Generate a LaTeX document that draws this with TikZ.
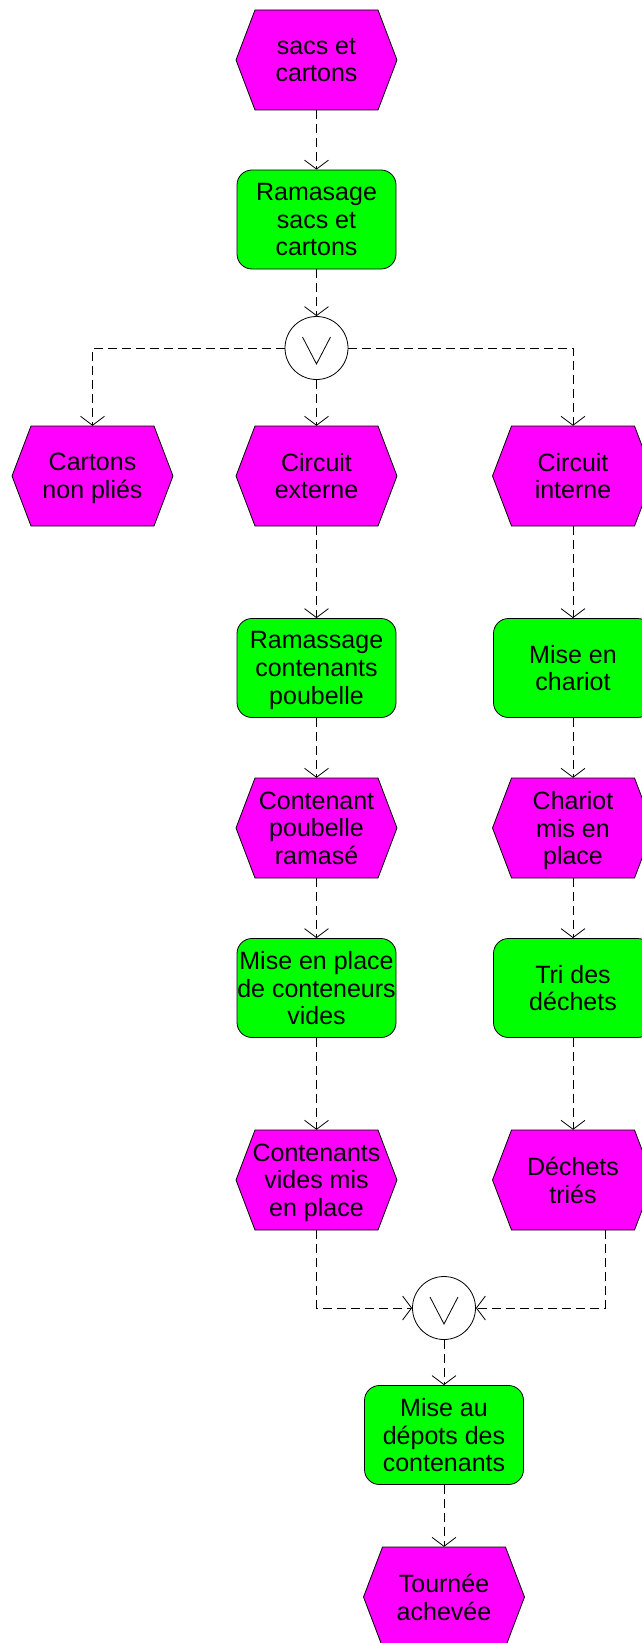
\documentclass[tikz,border=0pt]{standalone}
\usepackage{fontspec}
\setmainfont{Liberation Sans}
\usetikzlibrary{arrows.meta,calc}
\definecolor{evmag}{HTML}{FF00FF}
\definecolor{fngreen}{HTML}{00FF00}
\newcommand\hexnode[4]{%
  \filldraw[hexshape] (#2-80.5,#3) -- (#2-61.5,#3-50) -- (#2+61.5,#3-50) -- (#2+80.5,#3) -- (#2+61.5,#3+50) -- (#2-61.5,#3+50) -- cycle;
  \node[txt, minimum width=161pt, minimum height=100pt] (#1) at (#2,#3) {#4};}
\begin{document}
\begin{tikzpicture}[x=1pt,y=-1pt,
  hexshape/.style={fill=evmag, draw=black, line width=0.8pt},
  txt/.style={inner sep=0pt, align=center, font=\fontsize{25}{27.7}\selectfont, text depth=-4pt},
  fnbox/.style={txt, draw=black, fill=fngreen, line width=0.8pt, rounded corners=15pt, minimum width=159pt, minimum height=99pt},
  orop/.style={circle, draw=black, fill=white, line width=0.8pt, minimum size=63pt, inner sep=0pt},
  conn/.style={draw=black, line width=0.8pt, dash pattern=on 9pt off 5pt, -{Straight Barb[length=9pt,width=24pt]}},
  vsym/.style={draw=black, line width=0.8pt}]
\useasboundingbox (0,0) rectangle (642,1643);
\clip (0,0) rectangle (642,1643);
% nodes
\hexnode{sacs}{316.5}{60}{sacs et\\cartons}
\node[fnbox] (ram) at (316.5,219.5) {Ramasage\\sacs et\\cartons};
\node[orop] (c1) at (316.5,348) {};
\draw[vsym] ($(c1.center)+(-14,-11)$) -- ($(c1.center)+(0,16)$) -- ($(c1.center)+(14,-11)$);
\hexnode{cartons}{92.5}{476}{Cartons\\non pliés}
\hexnode{cext}{316.5}{476}{Circuit\\externe}
\hexnode{cint}{573}{476}{Circuit\\interne}
\node[fnbox] (rcp) at (316.5,668) {Ramassage\\contenants\\poubelle};
\node[fnbox] (mec) at (573,668) {Mise en\\chariot};
\hexnode{cpr}{316.5}{828}{Contenant\\poubelle\\ramasé}
\hexnode{cmp}{573}{828}{Chariot\\mis en\\place}
\node[fnbox] (mep) at (316.5,988) {Mise en place\\de conteneurs\\vides};
\node[fnbox] (tri) at (573,988) {Tri des\\déchets};
\hexnode{cvm}{316.5}{1180}{Contenants\\vides mis\\en place}
\hexnode{dtr}{573}{1180}{Déchets\\triés}
\node[orop] (c2) at (444,1308) {};
\draw[vsym] ($(c2.center)+(-14,-11)$) -- ($(c2.center)+(0,16)$) -- ($(c2.center)+(14,-11)$);
\node[fnbox] (mad) at (444,1435) {Mise au\\dépots des\\contenants};
\hexnode{tou}{444}{1597}{Tournée\\achevée}
\coordinate (dtout) at (605,1230);
% connectors
\draw[conn] (sacs) -- (ram);
\draw[conn] (ram) -- (c1);
\draw[conn] (c1) -- (cext);
\draw[conn] (c1.west) -| (cartons.north);
\draw[conn] (c1.east) -| (cint.north);
\draw[conn] (cext) -- (rcp);
\draw[conn] (rcp) -- (cpr);
\draw[conn] (cpr) -- (mep);
\draw[conn] (mep) -- (cvm);
\draw[conn] (cvm.south) |- (c2.west);
\draw[conn] (cint) -- (mec);
\draw[conn] (mec) -- (cmp);
\draw[conn] (cmp) -- (tri);
\draw[conn] (tri) -- (dtr);
\draw[conn] (dtout) |- (c2.east);
\draw[conn] (c2) -- (mad);
\draw[conn] (mad) -- (tou);
\end{tikzpicture}
\end{document}
